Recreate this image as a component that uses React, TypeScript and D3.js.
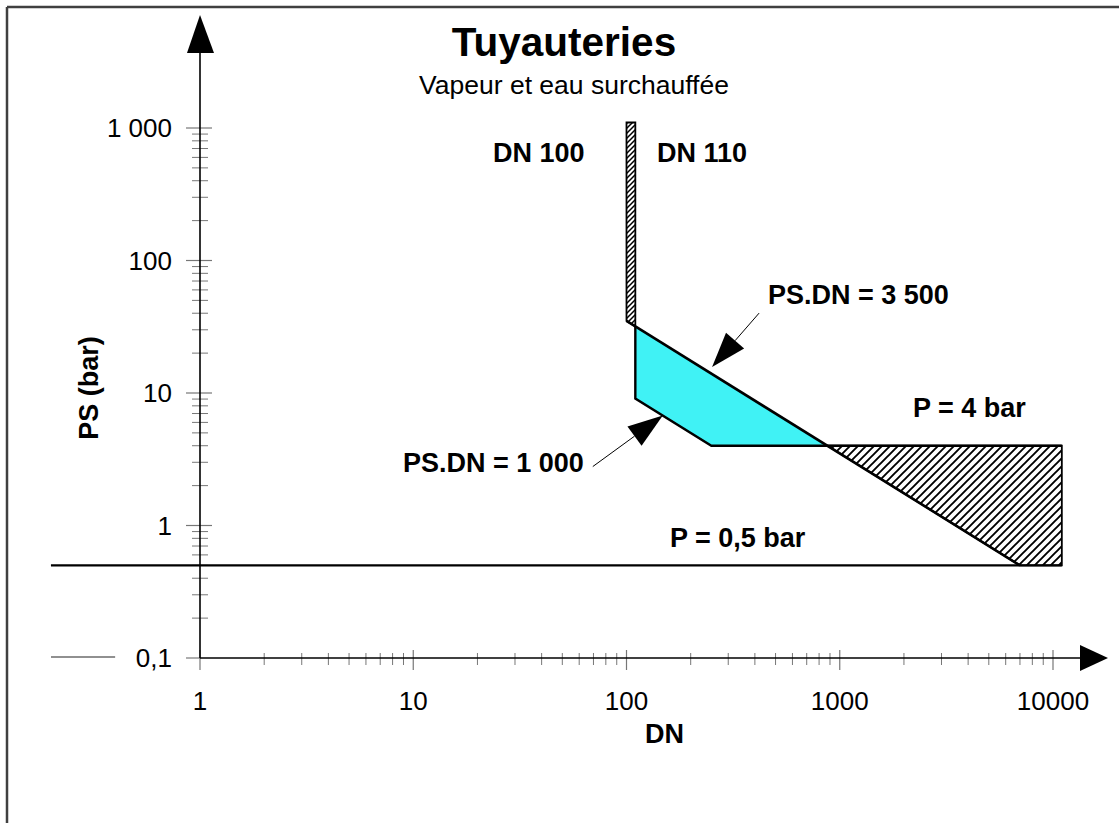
import React from "react";
import * as d3 from "d3";

const W = 1119;
const H = 823;

// Axes
const xDomain = [1, 10000];
const yDomain = [0.1, 1000];
const xTickValues = [1, 10, 100, 1000, 10000];
const xTickLabels = ["1", "10", "100", "1000", "10000"];
const yTickValues = [0.1, 1, 10, 100, 1000];
const yTickLabels = ["0,1", "1", "10", "100", "1 000"];

// Limits
const stripDN = [100, 110];
const stripTopPS = 1100;
const psdnHigh = 3500;
const psdnLow = 1000;
const pHigh = 4;
const pLow = 0.5;
const dnEnd = 11000;
const lineStartDN = 0.2;
const shortLineEndDN = 0.4;

// Annotation anchors (DN on the curve)
const annHighDN = 252;
const annLowDN = 148;

export default function App() {
  const x = d3.scaleLog().domain(xDomain).range([200, 1053]);
  const y = d3.scaleLog().domain(yDomain).range([658, 128]);

  const line = d3
    .line<number[]>()
    .x((d) => x(d[0]))
    .y((d) => y(d[1]));

  const stripPoly: number[][] = [
    [stripDN[0], stripTopPS],
    [stripDN[1], stripTopPS],
    [stripDN[1], psdnHigh / stripDN[1]],
    [stripDN[0], psdnHigh / stripDN[0]],
  ];
  const cyanPoly: number[][] = [
    [stripDN[1], psdnHigh / stripDN[1]],
    [psdnHigh / pHigh, pHigh],
    [psdnLow / pHigh, pHigh],
    [stripDN[1], psdnLow / stripDN[1]],
  ];
  const hatchPoly: number[][] = [
    [psdnHigh / pHigh, pHigh],
    [dnEnd, pHigh],
    [dnEnd, pLow],
    [psdnHigh / pLow, pLow],
  ];

  const minorX: number[] = [];
  xTickValues.slice(0, -1).forEach((d) => {
    for (let k = 2; k <= 9; k++) minorX.push(d * k);
  });
  const minorY: number[] = [];
  yTickValues.slice(0, -1).forEach((d) => {
    for (let k = 2; k <= 9; k++) minorY.push(d * k);
  });

  const arrow = (tx: number, ty: number, ex: number, ey: number) => {
    const dx = ex - tx;
    const dy = ey - ty;
    const len = Math.hypot(dx, dy);
    const ux = dx / len;
    const uy = dy / len;
    const bx = tx + ux * 35;
    const by = ty + uy * 35;
    const nx = -uy;
    const ny = ux;
    const hw = 12;
    return (
      <g>
        <line x1={bx} y1={by} x2={ex} y2={ey} stroke="#000" strokeWidth={1} />
        <path
          d={`M${tx},${ty} L${bx + nx * hw},${by + ny * hw} L${bx - nx * hw},${by - ny * hw} Z`}
          fill="#000"
        />
      </g>
    );
  };

  const hTipX = x(annHighDN);
  const hTipY = y(psdnHigh / annHighDN) - 7;
  const lTipX = x(annLowDN);
  const lTipY = y(psdnLow / annLowDN);

  const font = "'Liberation Sans', Arial, Helvetica, sans-serif";

  return (
    <svg
      width={W}
      height={H}
      style={{ position: "absolute", left: 0, top: 0, background: "#fff" }}
      fontFamily={font}
    >
      <defs>
        <pattern id="hatch" patternUnits="userSpaceOnUse" width={8} height={8}>
          <path d="M-1,1 l2,-2 M0,8 l8,-8 M7,9 l2,-2" stroke="#000" strokeWidth={1.9} />
        </pattern>
        <pattern id="hatch2" patternUnits="userSpaceOnUse" width={5} height={5}>
          <path d="M-1,1 l2,-2 M0,5 l5,-5 M4,6 l2,-2" stroke="#000" strokeWidth={1.5} />
        </pattern>
      </defs>
      <rect x={0} y={0} width={W} height={H} fill="#fff" />
      {/* frame */}
      <line x1={7} y1={7} x2={W} y2={7} stroke="#404040" strokeWidth={2.5} />
      <line x1={7} y1={7} x2={7} y2={H} stroke="#404040" strokeWidth={2.5} />

      {/* titles */}
      <text x={564} y={56} textAnchor="middle" fontWeight="bold" fontSize={40.5}>
        Tuyauteries
      </text>
      <text x={574} y={94} textAnchor="middle" fontSize={26.5}>
        Vapeur et eau surchauffée
      </text>

      {/* y ticks */}
      {minorY.map((v) => (
        <line key={"my" + v} x1={192} x2={208} y1={y(v)} y2={y(v)} stroke="#777" strokeWidth={1} />
      ))}
      {yTickValues.map((v) => (
        <line key={"My" + v} x1={186} x2={v === 0.1 ? 200 : 212} y1={y(v)} y2={y(v)} stroke="#777" strokeWidth={1.2} />
      ))}
      {yTickValues.map((v, i) => (
        <text key={"ly" + v} x={172} y={y(v) + 9} textAnchor="end" fontSize={26}>
          {yTickLabels[i]}
        </text>
      ))}

      {/* x ticks */}
      {minorX.map((v) => (
        <line key={"mx" + v} x1={x(v)} x2={x(v)} y1={y(0.1) - 5} y2={y(0.1) + 7} stroke="#777" strokeWidth={1} />
      ))}
      {xTickValues.map((v) => (
        <line key={"Mx" + v} x1={x(v)} x2={x(v)} y1={y(0.1) - 8} y2={y(0.1) + 12} stroke="#777" strokeWidth={1.2} />
      ))}
      {xTickValues.map((v, i) => (
        <text key={"lx" + v} x={x(v)} y={710} textAnchor="middle" fontSize={26}>
          {xTickLabels[i]}
        </text>
      ))}

      {/* axes */}
      <line x1={x(1)} y1={y(0.1)} x2={x(1)} y2={53} stroke="#000" strokeWidth={1.6} />
      <path d={`M${x(1)},15 L${x(1) - 13},53 L${x(1) + 14},53 Z`} fill="#000" />
      <line x1={x(1)} y1={y(0.1)} x2={1081} y2={y(0.1)} stroke="#000" strokeWidth={1.6} />
      <path d={`M1108,${y(0.1)} L1080,${y(0.1) - 13} L1080,${y(0.1) + 13} Z`} fill="#000" />
      <line
        x1={x(lineStartDN)}
        x2={x(shortLineEndDN)}
        y1={y(0.1) - 1}
        y2={y(0.1) - 1}
        stroke="#222"
        strokeWidth={1.2}
      />

      {/* axis titles */}
      <text x={645} y={743} fontWeight="bold" fontSize={27}>
        DN
      </text>
      <text
        transform={`translate(98,388) rotate(-90)`}
        textAnchor="middle"
        fontWeight="bold"
        fontSize={27}
      >
        PS (bar)
      </text>

      {/* P = 0.5 bar line */}
      <path d={line([[lineStartDN, pLow], [dnEnd, pLow]]) || ""} stroke="#000" strokeWidth={2.2} fill="none" />

      {/* regions */}
      <path d={(line(cyanPoly) || "") + "Z"} fill="#40F2F5" stroke="none" />
      <path d={(line(hatchPoly) || "") + "Z"} fill="url(#hatch)" stroke="#000" strokeWidth={1.8} />
      <path d={(line(stripPoly) || "") + "Z"} fill="url(#hatch2)" stroke="#000" strokeWidth={1.8} />

      {/* boundary lines */}
      <path
        d={line([[stripDN[0], psdnHigh / stripDN[0]], [psdnHigh / pLow, pLow]]) || ""}
        stroke="#000"
        strokeWidth={2.6}
        fill="none"
      />
      <path
        d={line([[stripDN[1], psdnHigh / stripDN[1]], [stripDN[1], psdnLow / stripDN[1]], [psdnLow / pHigh, pHigh], [dnEnd, pHigh]]) || ""}
        stroke="#000"
        strokeWidth={2.4}
        fill="none"
      />

      {/* labels */}
      <text x={493} y={162} fontWeight="bold" fontSize={27}>
        DN 100
      </text>
      <text x={657} y={162} fontWeight="bold" fontSize={27}>
        DN 110
      </text>
      <text x={768} y={304} fontWeight="bold" fontSize={27}>
        PS.DN = 3 500
      </text>
      <text x={403} y={472} fontWeight="bold" fontSize={27}>
        PS.DN = 1 000
      </text>
      <text x={913} y={417} fontWeight="bold" fontSize={27}>
        P = 4 bar
      </text>
      <text x={670} y={547} fontWeight="bold" fontSize={27}>
        P = 0,5 bar
      </text>

      {/* annotation arrows */}
      {arrow(hTipX, hTipY, hTipX + 47, hTipY - 54)}
      {arrow(lTipX, lTipY, lTipX - 70, lTipY + 51)}
    </svg>
  );
}
